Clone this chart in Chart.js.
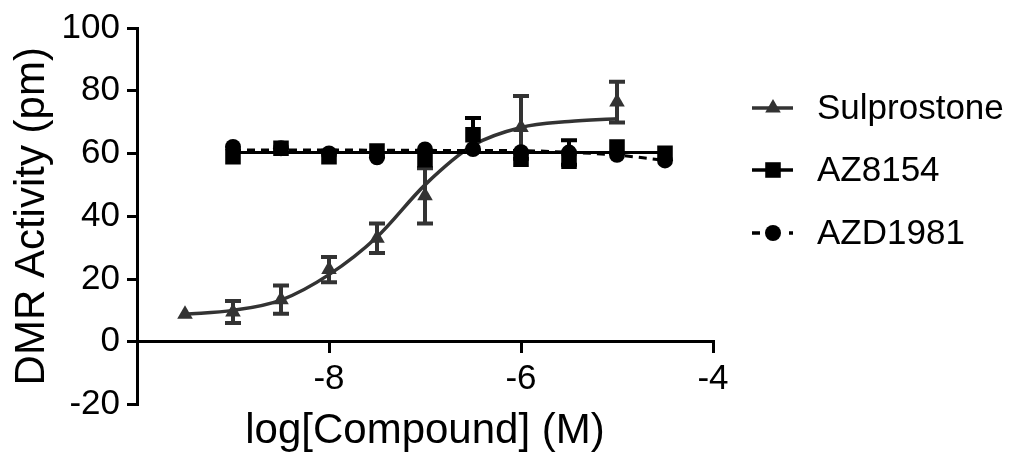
<!DOCTYPE html>
<html>
<head>
<meta charset="utf-8">
<script src="https://cdn.jsdelivr.net/npm/chart.js@4.4.1/dist/chart.umd.min.js"></script>
<style>
  body { margin: 0; background: #fff; }
  #wrap { width: 1010px; height: 459px; }
</style>
</head>
<body>
<div id="wrap"><canvas id="myChart" width="1010" height="459"></canvas></div>
<script>
// measured points (mean, +/- error)
const doseX = [-9, -8.5, -8, -7.5, -7, -6.5, -6, -5.5, -5, -4.5];
const sulproX = [-9.5, -9, -8.5, -8, -7.5, -7, -6, -5];
const sulproY = [8.8, 9.5, 13.4, 23, 33, 46.5, 68.3, 76.4];
const sulproErr = [0, 3.5, 4.5, 4, 4.7, 8.8, 10, 6.5];
const az8154Y = [59.0, 61.7, 59.0, 60.8, 58.0, 66.0, 58.2, 57.5, 62.1, 60.1];
const az8154Err = [0, 0, 0, 0, 0, 5.3, 0, 0, 0, 0];
const azd1981Y = [62.1, 61.7, 60.0, 58.8, 61.3, 61.4, 60.4, 60.3, 59.6, 57.8];
const azd1981Err = [0, 0, 0, 0, 0, 0, 0, 3.9, 0, 0];

// fitted curves
const sulproFitX = [-9.5, -9, -8.5, -8, -7.5, -7, -6.5, -6, -5.5, -5];
const sulproFitY = [8.8, 10, 13.3, 21.4, 33.4, 50, 62.6, 68.3, 70.2, 71.1];
const az8154FitX = [-9, -4.5];
const az8154FitY = [60.3, 60.3];
const azd1981FitX = [-9, -8, -7, -6, -5.5, -5, -4.75, -4.5];
const azd1981FitY = [61.1, 61.1, 61.0, 60.9, 60.4, 59.5, 58.7, 57.8];

const xTicks = [-8, -6, -4];
const seriesNames = ['Sulprostone', 'AZ8154', 'AZD1981'];

const pts = (xs, ys) => xs.map((x, i) => ({x: x, y: ys[i]}));

Chart.defaults.font.family = "'Liberation Sans', Arial, sans-serif";
Chart.defaults.color = '#000';

const errorBars = {
  id: 'errorBars',
  beforeDatasetsDraw(chart) {
    const {ctx, scales: {x, y}} = chart;
    chart.data.datasets.forEach(ds => {
      if (!ds.err) return;
      ctx.save();
      ctx.strokeStyle = ds.backgroundColor;
      ctx.lineWidth = 4;
      ds.data.forEach((p, i) => {
        const e = ds.err[i];
        if (!e) return;
        const px = x.getPixelForValue(p.x);
        const top = y.getPixelForValue(p.y + e);
        const bot = y.getPixelForValue(p.y - e);
        ctx.beginPath();
        ctx.moveTo(px, top); ctx.lineTo(px, bot);
        ctx.moveTo(px - 8, top); ctx.lineTo(px + 8, top);
        ctx.moveTo(px - 8, bot); ctx.lineTo(px + 8, bot);
        ctx.stroke();
      });
      ctx.restore();
    });
  }
};

const sideLegend = {
  id: 'sideLegend',
  afterDraw(chart) {
    const {ctx, chartArea} = chart;
    const x0 = chartArea.right + 39;
    const rows = [
      {name: seriesNames[0], color: '#333', style: 'triangle', r: 9, dash: [], y: 108},
      {name: seriesNames[1], color: '#000', style: 'rect', r: 11, dash: [], y: 170},
      {name: seriesNames[2], color: '#000', style: 'circle', r: 8, dash: [8, 29, 4, 100], y: 233}
    ];
    rows.forEach(row => {
      ctx.save();
      ctx.strokeStyle = row.color;
      ctx.fillStyle = row.color;
      ctx.lineWidth = 3.5;
      ctx.setLineDash(row.dash);
      ctx.beginPath();
      ctx.moveTo(x0, row.y);
      ctx.lineTo(x0 + 41, row.y);
      ctx.stroke();
      ctx.setLineDash([]);
      Chart.helpers.drawPoint(ctx, {pointStyle: row.style, radius: row.r, rotation: 0, borderWidth: 0}, x0 + 21, row.y);
      ctx.fillStyle = '#000';
      ctx.font = "35px 'Liberation Sans', Arial, sans-serif";
      ctx.textBaseline = 'middle';
      ctx.textAlign = 'left';
      ctx.fillText(row.name, x0 + 65, row.y + 1);
      ctx.restore();
    });
  }
};

const ctx = document.getElementById('myChart');

new Chart(ctx, {
  type: 'line',
  data: {
    datasets: [
      {
        label: seriesNames[2],
        data: pts(doseX, azd1981Y),
        err: azd1981Err,
        showLine: false,
        pointStyle: 'circle',
        pointRadius: 8,
        backgroundColor: '#000',
        borderWidth: 0
      },
      {
        label: seriesNames[1],
        data: pts(doseX, az8154Y),
        err: az8154Err,
        showLine: false,
        pointStyle: 'rect',
        pointRadius: 11,
        backgroundColor: '#000',
        borderWidth: 0
      },
      {
        label: seriesNames[0],
        data: pts(sulproX, sulproY),
        err: sulproErr,
        showLine: false,
        pointStyle: 'triangle',
        pointRadius: 9,
        backgroundColor: '#333',
        borderWidth: 0
      },
      {
        label: seriesNames[2] + ' fit',
        data: pts(azd1981FitX, azd1981FitY),
        borderColor: '#000',
        borderWidth: 3,
        borderDash: [8, 6],
        pointRadius: 0,
        cubicInterpolationMode: 'monotone'
      },
      {
        label: seriesNames[1] + ' fit',
        data: pts(az8154FitX, az8154FitY),
        borderColor: '#000',
        borderWidth: 3,
        pointRadius: 0
      },
      {
        label: seriesNames[0] + ' fit',
        data: pts(sulproFitX, sulproFitY),
        borderColor: '#333',
        borderWidth: 3.5,
        pointRadius: 0,
        cubicInterpolationMode: 'monotone'
      }
    ]
  },
  options: {
    responsive: false,
    animation: false,
    devicePixelRatio: 1,
    layout: {padding: {left: 0, right: 297, top: 20.5, bottom: 54.5}},
    plugins: {legend: {display: false}, tooltip: {enabled: false}},
    scales: {
      x: {
        type: 'linear',
        min: -10,
        max: -4,
        position: {y: 0},
        afterBuildTicks: s => { s.ticks = xTicks.map(v => ({value: v})); },
        grid: {drawOnChartArea: false, drawTicks: true, tickLength: 10, lineWidth: 3, tickWidth: 3, tickColor: '#000'},
        border: {color: '#000', width: 3},
        ticks: {color: '#000', font: {size: 35}, padding: 7, maxRotation: 0},
        title: {display: true, text: 'log[Compound] (M)', color: '#000', font: {size: 42}, padding: {top: -2, bottom: 0}}
      },
      y: {
        min: -20,
        max: 100,
        afterFit: s => { s.width = 137; },
        grid: {drawOnChartArea: false, drawTicks: true, tickLength: 10, lineWidth: 3, tickWidth: 3, tickColor: '#000'},
        border: {color: '#000', width: 3},
        ticks: {stepSize: 20, color: '#000', font: {size: 35}, padding: 7},
        title: {display: true, text: 'DMR Activity (pm)', color: '#000', font: {size: 42}, padding: {top: 7, bottom: 0}}
      }
    }
  },
  plugins: [errorBars, sideLegend]
});
</script>
</body>
</html>
